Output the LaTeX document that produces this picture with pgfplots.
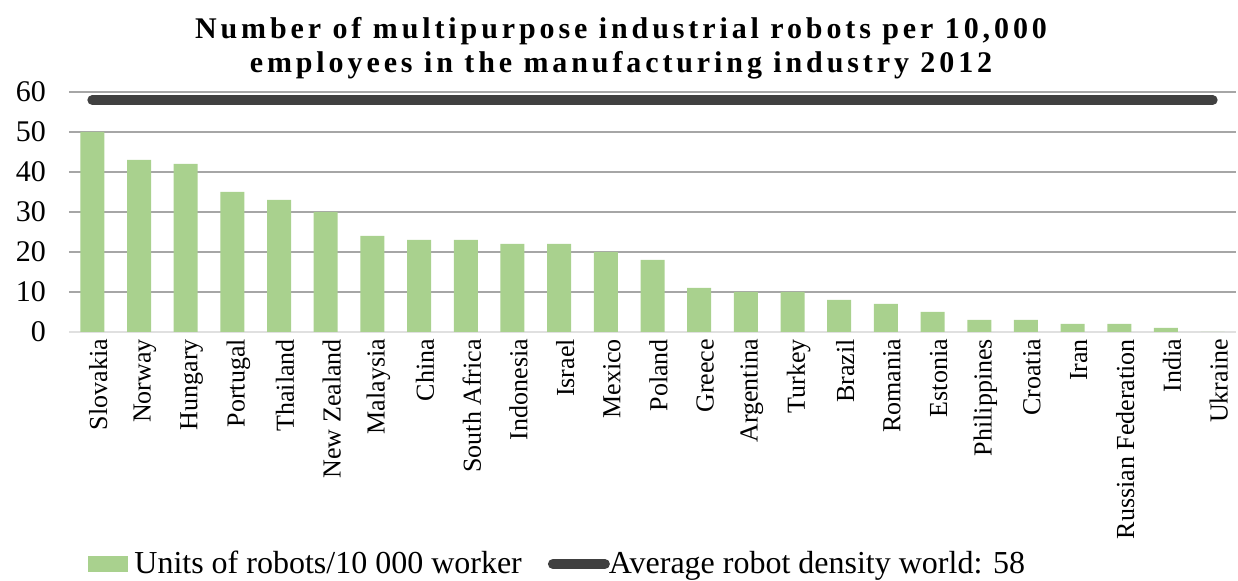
\documentclass[border=0pt]{standalone}
\usepackage{fontspec}
\setmainfont{Liberation Serif}
\newfontfamily\titlefont[LetterSpace=13]{Liberation Serif}
\usepackage{pgfplots}
\pgfplotsset{compat=1.18}
\definecolor{barg}{HTML}{A9D18E}
\definecolor{avgline}{HTML}{404040}
\definecolor{gridc}{HTML}{A6A6A6}
\begin{document}
\begin{tikzpicture}
\useasboundingbox (-34.5pt,-124.5pt) rectangle (584.5pt,166pt);
\begin{axis}[
  at={(0,0)}, anchor=south west,
  scale only axis, width=583.5pt, height=120pt,
  ymin=0, ymax=60, ytick={10,20,...,60},
  extra y ticks={0}, extra y tick style={grid style={gridc!35, line width=1pt}},
  xmin=-0.5, xmax=24.5,
  xtick={0,...,24},
  xticklabels={Slovakia,Norway,Hungary,Portugal,Thailand,New Zealand,Malaysia,China,South Africa,Indonesia,Israel,Mexico,Poland,Greece,Argentina,Turkey,Brazil,Romania,Estonia,Philippines,Croatia,Iran,Russian Federation,India,Ukraine},
  x tick label style={rotate=90, anchor=east, font=\fontsize{13}{15}\selectfont, yshift=-3pt},
  y tick label style={font=\fontsize{15}{17}\selectfont, xshift=-8pt},
  /pgf/number format/assume math mode=true,
  ymajorgrids, grid style={gridc, line width=1pt},
  axis line style={draw=none}, major tick length=0pt,
  legend columns=2,
  legend style={at={(9.5pt,-116pt)}, anchor=west, draw=none, fill=none, inner sep=0pt,
    font=\fontsize{16}{18}\selectfont,
    nodes={inner xsep=3pt, inner ysep=0pt},
    /tikz/every even column/.append style={column sep=10pt}},
]
\addplot[ybar, bar width=12pt, fill=barg, draw=none,
  legend image code/.code={\fill[barg] (0pt,-4pt) rectangle (20pt,4pt);}]
  coordinates {(0,50) (1,43) (2,42) (3,35) (4,33) (5,30) (6,24) (7,23) (8,23) (9,22) (10,22) (11,20) (12,18) (13,11) (14,10) (15,10) (16,8) (17,7) (18,5) (19,3) (20,3) (21,2) (22,2) (23,1) (24,0)};
\addlegendentry{Units of robots/10 000 worker}
\addplot[avgline, line width=5pt, line cap=round,
  legend image code/.code={\path[draw=none, fill=none] (0pt,-2.5pt) rectangle (27.5pt,2.5pt);
    \draw[overlay, avgline, line width=5pt, line cap=round] (2.5pt,0pt) -- (28.5pt,0pt);}]
  coordinates {(0,58) (24,58)};
\addlegendentry{Average robot density world: 58}
\end{axis}
\node[anchor=base, font=\titlefont\bfseries\fontsize{15}{17}\selectfont] at (276pt,146.5pt) {Number of multipurpose industrial robots per 10,000};
\node[anchor=base, font=\titlefont\bfseries\fontsize{15}{17}\selectfont] at (276pt,129.5pt) {employees in the manufacturing industry 2012};
\end{tikzpicture}
\end{document}
